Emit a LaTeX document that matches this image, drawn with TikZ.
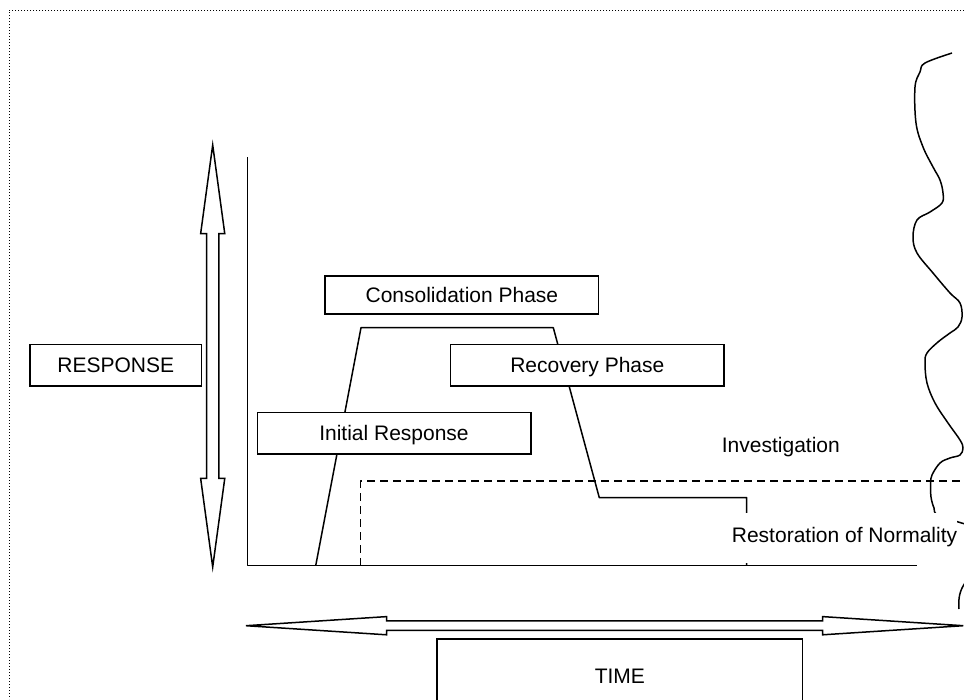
\documentclass[tikz,border=0pt]{standalone}
\usepackage{fontspec}
\setmainfont{Liberation Sans}
\usetikzlibrary{shapes.arrows}
\tikzstyle{phasebox} = [rectangle, draw=black, fill=white, line width=1.5pt, minimum width=273.5pt, minimum height=41.5pt, text height=15pt, text depth=0pt, inner sep=0pt, font=\fontsize{21pt}{25pt}\selectfont]
\tikzstyle{plaintext} = [inner sep=0pt, text height=15pt, text depth=4pt, font=\fontsize{21pt}{25pt}\selectfont]
\tikzstyle{dblarrow} = [double arrow, draw=black, fill=white, line width=1.5pt, inner xsep=0pt, text height=0pt, text depth=0pt, text width=0pt]
\tikzstyle{curveline} = [line width=1.5pt, line join=round]

\begin{document}
\begin{tikzpicture}[x=1pt, y=-1pt]
\useasboundingbox (0,0) rectangle (964,699);

% page frame
\draw [dotted, line width=1pt] (964,10) -- (9,10) -- (9,699);

% axes
\coordinate (origin) at (247.7,565.7);
\coordinate (axistop) at (247.7,157);
\coordinate (axisend) at (917,565.7);
\draw [curveline] (axistop) -- (origin) -- (axisend);

% response curve
\coordinate (risestart) at (315.7,565.7);
\coordinate (risetop) at (361,327.7);
\coordinate (plateauend) at (553.3,327.7);
\coordinate (recoveryend) at (599.3,497.7);
\coordinate (restorestep) at (746.7,497.7);
\coordinate (restoreend) at (746.7,565.7);
\draw [curveline] (risestart) -- (risetop) -- (plateauend) -- (recoveryend) -- (restorestep) -- (restoreend);

% investigation
\coordinate (investstart) at (360.7,565.7);
\coordinate (investrise) at (360.7,481);
\coordinate (investend) at (970,481);
\draw [curveline, dash pattern=on 8pt off 5pt] (investstart) -- (investrise) -- (investend);

% torn edge
\draw [curveline] plot [smooth, tension=0.6] coordinates {(952,53) (925,63) (920,72) (915,87) (916,123) (923,147) (933,167) (940,180) (943,193) (942,203) (930,212) (917,220) (913,237) (917,253) (933,273) (950,293) (960,303) (962,317) (958,327) (950,333) (938,342) (927,353) (925,363) (927,383) (935,403) (948,423) (960,440) (963,448) (960,455) (950,458) (940,463) (932,475) (930.7,483) (931,497) (934,508) (938,515) (965,524)};
\draw [curveline] (959,609) .. controls (958,598) and (960,590) .. (965,583);

% phases
\node (consolidation) [phasebox, minimum height=38pt] at (461.9,295) {Consolidation Phase};
\node (recovery) [phasebox] at (587.3,365.2) {Recovery Phase};
\node (initial) [phasebox] at (394,433.3) {Initial Response};
\node (investigation) [plaintext, anchor=base west] at (721.7,452.3) {Investigation};
\node (restoration) [plaintext, fill=white, inner ysep=14pt, text depth=7pt, anchor=base west] at (731.7,542.3) {Restoration of Normality};

% axis labels
\node (response) [phasebox, minimum width=171.7pt] at (115.8,365.2) {RESPONSE};
\node (responsearrow) [dblarrow, rotate=90, inner ysep=5.3pt, minimum height=422pt, double arrow head extend=6pt, double arrow tip angle=15.5] at (212.7,356) {};
\node (timearrow) [dblarrow, inner ysep=4pt, minimum height=717.3pt, double arrow head extend=4.35pt, double arrow tip angle=7.4] at (604.65,625.7) {};
\node (time) [phasebox, minimum width=365.7pt, minimum height=73pt] at (619.85,675.5) {TIME};

\end{tikzpicture}
\end{document}
